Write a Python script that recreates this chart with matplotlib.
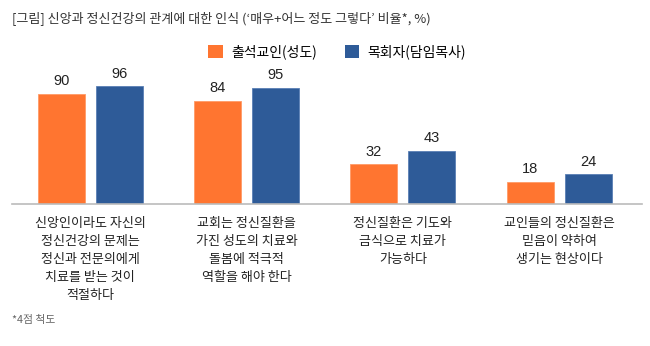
import numpy as np
import matplotlib
matplotlib.use("Agg")
import matplotlib.pyplot as plt
from matplotlib.patches import Patch

plt.rcParams['font.family'] = ['Noto Sans CJK KR', 'DejaVu Sans']

# --- data ---
categories = [
    "신앙인이라도 자신의\n정신건강의 문제는\n정신과 전문의에게\n치료를 받는 것이\n적절하다",
    "교회는 정신질환을\n가진 성도의 치료와\n돌봄에 적극적\n역할을 해야 한다",
    "정신질환은 기도와\n금식으로 치료가\n가능하다",
    "교인들의 정신질환은\n믿음이 약하여\n생기는 현상이다",
]
series_names = ["출석교인(성도)", "목회자(담임목사)"]
members = [90, 84, 32, 18]
pastors = [96, 95, 43, 24]

orange = "#FF7530"
blue = "#2E5B98"

W, H = 650, 346
fig = plt.figure(figsize=(6.5, 3.46), dpi=100)

# axes placed in pixel terms: baseline at y=203.5, 1.22 px per percent
base_y = 203.5
px_per = 1.22
ymax = 118
ax = fig.add_axes([12 / W, (H - base_y) / H, 630 / W, ymax * px_per / H])

x = np.arange(len(categories))
w = 0.30
off = 0.185
b1 = ax.bar(x - off, members, w, color=orange, edgecolor="#FF9A66", linewidth=0.6)
b2 = ax.bar(x + off, pastors, w, color=blue, edgecolor="#5A7FB5", linewidth=0.6)

for bars, vals in ((b1, members), (b2, pastors)):
    for rect, v in zip(bars, vals):
        ax.annotate(str(v), (rect.get_x() + rect.get_width() / 2, v),
                    xytext=(0, 4), textcoords="offset points",
                    ha="center", va="bottom", fontsize=10.5,
                    family="Liberation Sans", color="#222222")

ax.set_xlim(-0.5, 3.53)
ax.set_ylim(0, ymax)
for s in ("top", "right", "left"):
    ax.spines[s].set_visible(False)
ax.spines["bottom"].set_color("#BBBBBB")
ax.spines["bottom"].set_linewidth(1.2)
ax.set_yticks([])
ax.set_xticks(x)
ax.set_xticklabels(categories, fontsize=9.4, linespacing=1.5, color="#222222", va="top")
ax.tick_params(axis="x", length=0, pad=9.5)

# title and footnote
fig.text(12 / W, 1 - 18 / H, "[그림] 신앙과 정신건강의 관계에 대한 인식 (‘매우+어느 정도 그렇다’ 비율*, %)",
         fontsize=9.4, color="#333333", va="center", ha="left")
fig.text(12 / W, 1 - 320 / H, "*4점 척도", fontsize=7.8, color="#666666", va="center", ha="left")

handles = [Patch(facecolor=orange), Patch(facecolor=blue)]
fig.legend(handles, series_names, ncol=2, loc="center",
           bbox_to_anchor=(337 / W, 1 - 52 / H), frameon=False,
           fontsize=10, handlelength=1.05, handleheight=1.05,
           handletextpad=0.6, columnspacing=2.0)

fig.savefig("out.png", dpi=100)
